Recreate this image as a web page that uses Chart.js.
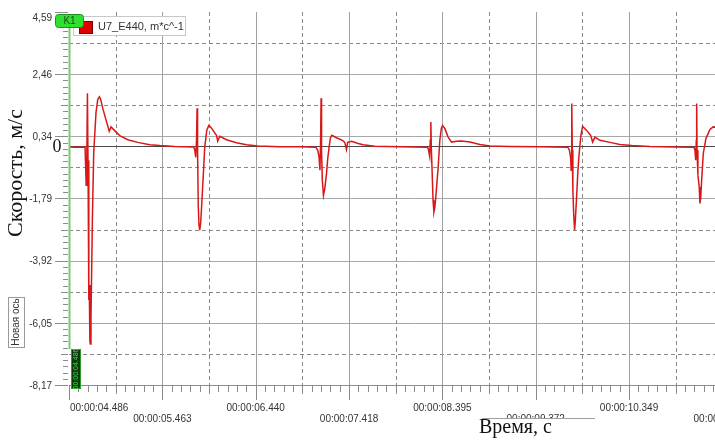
<!DOCTYPE html>
<html>
<head>
<meta charset="utf-8">
<script src="https://cdn.jsdelivr.net/npm/chart.js@4.4.1/dist/chart.umd.min.js"></script>
<style>
  html, body { margin: 0; padding: 0; background: #fff; overflow: hidden; }
  #wrap { width: 780px; height: 444px; }
</style>
</head>
<body>
<div id="wrap"><canvas id="chart1" width="780" height="444"></canvas></div>
<script>
// U7_E440 speed trace: time (s) and speed (m/s)
const timeS = [
  4.486, 4.560, 4.640,
  4.654, 4.666, 4.673, 4.679, 4.685, 4.692, 4.695, 4.698, 4.705, 4.710, 4.716, 4.731, 4.745, 4.769,
  4.787, 4.804, 4.818, 4.839, 4.874, 4.899, 4.907, 4.926, 4.962, 5.017, 5.101, 5.206, 5.331, 5.436, 5.593, 5.792,
  5.803, 5.813, 5.821, 5.827, 5.832, 5.839, 5.847, 5.855, 5.865, 5.878, 5.889, 5.907, 5.928,
  5.949, 5.970, 5.994, 6.030, 6.043, 6.064, 6.135, 6.239, 6.344, 6.462, 6.693, 6.902, 7.070,
  7.091, 7.104, 7.113, 7.120, 7.125, 7.130, 7.138, 7.150, 7.164, 7.182, 7.195, 7.209, 7.222,
  7.237, 7.287, 7.349, 7.373, 7.391, 7.403, 7.418, 7.444, 7.513, 7.565, 7.688, 7.949, 8.232,
  8.246, 8.262, 8.268, 8.274, 8.280, 8.287, 8.297, 8.306, 8.316, 8.326, 8.351, 8.368, 8.384,
  8.397, 8.421, 8.455, 8.491, 8.543, 8.596, 8.683, 8.787, 8.892, 9.101, 9.416, 9.709,
  9.725, 9.737, 9.743, 9.748, 9.751, 9.755, 9.761, 9.770, 9.779, 9.787, 9.800, 9.814, 9.827, 9.845,
  9.863, 9.905, 9.947, 9.968, 9.992, 10.044, 10.149, 10.254, 10.376, 10.568, 10.830, 11.029,
  11.039, 11.047, 11.053, 11.057, 11.061, 11.070, 11.084, 11.091, 11.099, 11.109, 11.126, 11.154,
  11.196, 11.231, 11.280, 11.353, 11.510, 11.720
];
const speed = [
  -0.03, -0.04, -0.03,
  -0.04, -1.34, -0.14, 1.81, -0.48, -3.90, -5.26, -4.75, -6.70, -6.77, -5.88, -2.46, -0.21, 1.16,
  1.60, 1.69, 1.60, 1.30, 0.89, 0.61, 0.51, 0.66, 0.54, 0.36, 0.22, 0.13, 0.05, 0.02, -0.01, -0.03,
  -0.14, -0.38, 0.20, 1.30, -0.14, -2.02, -2.70, -2.87, -2.60, -1.85, -1.17, -0.04, 0.54,
  0.71, 0.65, 0.54, 0.37, 0.17, 0.34, 0.22, 0.12, 0.05, 0.01, -0.02, -0.02, -0.04,
  -0.14, -0.38, -0.82, 0.20, 1.64, -0.14, -1.17, -1.68, -1.44, -0.93, -0.41, -0.04, 0.27,
  0.37, 0.29, 0.20, 0.13, -0.12, 0.13, 0.14, 0.17, 0.09, 0.05, 0.00, -0.02, -0.04,
  -0.07, -0.35, 0.20, 0.83, -0.14, -0.82, -1.85, -2.25, -2.09, -1.74, -0.71, 0.20, 0.61,
  0.71, 0.60, 0.31, 0.14, 0.17, 0.18, 0.14, 0.06, 0.01, -0.01, -0.02, -0.04,
  -0.14, -0.38, -0.82, 0.20, 1.46, -0.14, -1.51, -2.36, -2.87, -2.53, -1.74, -0.82, -0.24, 0.37,
  0.68, 0.54, 0.37, 0.14, 0.31, 0.20, 0.13, 0.06, 0.02, -0.01, -0.03, -0.04,
  -0.14, -0.48, 0.20, 1.46, -0.14, -0.99, -1.40, -1.96, -1.78, -1.17, -0.25, 0.26,
  0.57, 0.66, 0.65, 0.54, 0.30, 0.15
];

// axis ticks
const yTickLabels = ['4,59', '2,46', '0,34', '-1,79', '-3,92', '-6,05', '-8,17'];
const xTickValues = [4.486, 5.463, 6.440, 7.418, 8.395, 9.372, 10.349, 11.326];
const xTickLabels = ['00:00:04.486', '00:00:05.463', '00:00:06.440', '00:00:07.418',
                     '00:00:08.395', '00:00:09.372', '00:00:10.349', '00:00:11.326'];
const yMin = -8.17, yMax = 4.59;
const xMin = 4.486, xMax = 11.72;

const SANS = '"Liberation Sans", Arial, sans-serif';
const SERIF = '"Liberation Serif", "Times New Roman", serif';

function hLine(ctx, x1, x2, y) {
  ctx.beginPath(); ctx.moveTo(x1, y); ctx.lineTo(x2, y); ctx.stroke();
}
function vLine(ctx, x, y1, y2) {
  ctx.beginPath(); ctx.moveTo(x, y1); ctx.lineTo(x, y2); ctx.stroke();
}
function rotatedText(ctx, text, cx, cy, font, color) {
  ctx.save();
  ctx.translate(cx, cy);
  ctx.rotate(-Math.PI / 2);
  ctx.font = font;
  ctx.fillStyle = color;
  ctx.textAlign = 'center';
  ctx.textBaseline = 'middle';
  ctx.fillText(text, 0, 0);
  ctx.restore();
}

// grid, axes and the scope overlays
const scopePlugin = {
  id: 'scope',
  beforeDatasetsDraw(chart) {
    const { ctx, chartArea: a, scales: { x, y } } = chart;
    const yStep = (yMax - yMin) / (yTickLabels.length - 1);
    const xStep = xTickValues[1] - xTickValues[0];
    ctx.save();
    ctx.lineWidth = 1;
    for (let i = 0; i < yTickLabels.length - 1; i++) {
      const v = yMax - i * yStep;
      if (i > 0) {
        ctx.strokeStyle = '#a8a8a8';
        ctx.setLineDash([]);
        hLine(ctx, a.left, a.right, Math.round(y.getPixelForValue(v)) + 0.5);
      }
      ctx.strokeStyle = '#8a8a8a';
      ctx.setLineDash([4, 3]);
      hLine(ctx, a.left, a.right, Math.round(y.getPixelForValue(v - yStep / 2)) + 0.5);
    }
    xTickValues.forEach((v, i) => {
      if (i > 0) {
        ctx.strokeStyle = '#a0a0a0';
        ctx.setLineDash([]);
        vLine(ctx, Math.round(x.getPixelForValue(v)) + 0.5, a.top, a.bottom);
      }
      const m = v + xStep / 2;
      if (m < xMax) {
        ctx.strokeStyle = '#8a8a8a';
        ctx.setLineDash([4, 3]);
        vLine(ctx, Math.round(x.getPixelForValue(m)) + 0.5, a.top, a.bottom);
      }
    });
    // zero level
    ctx.setLineDash([]);
    ctx.strokeStyle = '#4a4a4a';
    hLine(ctx, a.left, a.right, Math.round(y.getPixelForValue(0)) + 0.5);
    ctx.restore();
  },
  afterDraw(chart) {
    const { ctx, chartArea: a, scales: { x, y } } = chart;
    const yStep = (yMax - yMin) / (yTickLabels.length - 1);
    const xStep = xTickValues[1] - xTickValues[0];
    ctx.save();
    ctx.lineWidth = 1;
    ctx.strokeStyle = '#8c8c8c';

    // x axis line and ticks
    hLine(ctx, a.left, a.right, a.bottom + 0.5);
    for (let i = 0; i < xTickValues.length; i++) {
      for (let k = 0; k < 10; k++) {
        const v = xTickValues[i] + k * xStep / 10;
        if (v > xMax) break;
        const px = Math.round(x.getPixelForValue(v)) + 0.5;
        const len = k === 0 ? 14 : (k === 5 ? 8 : 6);
        vLine(ctx, px, a.bottom + 1, a.bottom + 1 + len);
      }
    }
    // y axis ticks
    for (let i = 0; i < yTickLabels.length; i++) {
      for (let k = 0; k < 10; k++) {
        const v = yMax - i * yStep - k * yStep / 10;
        if (v < yMin - 1e-6) break;
        const py = Math.round(y.getPixelForValue(v)) + 0.5;
        const len = k === 0 ? 14 : (k === 5 ? 8 : 6);
        hLine(ctx, a.left - len, a.left - 1, py);
      }
    }

    // tick labels
    ctx.fillStyle = '#333';
    ctx.font = '10px ' + SANS;
    ctx.textAlign = 'right';
    ctx.textBaseline = 'middle';
    yTickLabels.forEach((t, i) => {
      const py = Math.max(y.getPixelForValue(yMax - i * yStep) + 1, 18);
      ctx.fillText(t, 52, py);
    });
    xTickValues.forEach((v, i) => {
      const px = x.getPixelForValue(v);
      const py = i % 2 === 0 ? 408.5 : 419.5;
      ctx.textAlign = i === 0 ? 'left' : 'center';
      ctx.fillText(xTickLabels[i], i === 0 ? px + 1 : px, py);
    });

    // axis titles
    ctx.fillStyle = '#fff';
    ctx.fillRect(482, 418, 113, 26);
    ctx.strokeStyle = '#a0a0a0';
    hLine(ctx, 482, 595, 418.5);
    ctx.fillStyle = '#111';
    ctx.font = '20px ' + SERIF;
    ctx.textAlign = 'left';
    ctx.textBaseline = 'alphabetic';
    ctx.fillText('Время, с', 479, 433);
    ctx.save();
    ctx.translate(22, 173);
    ctx.rotate(-Math.PI / 2);
    ctx.font = '22px ' + SERIF;
    ctx.textAlign = 'center';
    ctx.fillText('Скорость, м/с', 0, 0);
    ctx.restore();
    ctx.font = '18px ' + SERIF;
    ctx.textAlign = 'center';
    ctx.textBaseline = 'middle';
    ctx.fillText('0', 57, y.getPixelForValue(0) + 1);

    // "Новая ось" tag
    ctx.fillStyle = '#fff';
    ctx.fillRect(8, 297, 16, 50);
    ctx.strokeStyle = '#9a9a9a';
    ctx.strokeRect(8.5, 297.5, 16, 50);
    rotatedText(ctx, 'Новая ось', 16.5, 322, '10px ' + SANS, '#333');

    // legend
    ctx.fillStyle = '#fff';
    ctx.fillRect(73, 16, 112, 19);
    ctx.strokeStyle = '#c8c8c8';
    ctx.strokeRect(73.5, 16.5, 112, 19);
    ctx.fillStyle = '#e00000';
    ctx.fillRect(79, 21, 14, 13);
    ctx.strokeStyle = '#700';
    ctx.strokeRect(79.5, 21.5, 13, 12);
    ctx.fillStyle = '#333';
    ctx.font = '11px ' + SANS;
    ctx.textAlign = 'left';
    ctx.textBaseline = 'middle';
    ctx.fillText('U7_E440, m*c^-1', 98, 27);

    // cursor K1 with its flag and time marker
    ctx.strokeStyle = '#74cc74';
    ctx.lineWidth = 2;
    vLine(ctx, a.left + 0.5, 27, 349);
    ctx.lineWidth = 1;
    ctx.fillStyle = '#2fe02f';
    ctx.strokeStyle = '#1f8f1f';
    ctx.beginPath();
    ctx.roundRect(55.5, 14.5, 28, 13, 3);
    ctx.fill();
    ctx.stroke();
    ctx.fillStyle = '#1a4d1a';
    ctx.font = '10px ' + SANS;
    ctx.textAlign = 'center';
    ctx.fillText('K1', 69.5, 21.5);
    ctx.fillStyle = '#0d3a0d';
    ctx.fillRect(71, 349, 10, 40);
    ctx.strokeStyle = '#2a9a2a';
    ctx.strokeRect(71.5, 349.5, 9, 39);
    rotatedText(ctx, '00:00:04.486', 76, 369, '7px ' + SANS, '#3ee03e');
    ctx.restore();
  }
};

const points = timeS.map((t, i) => ({ x: t, y: speed[i] }));

new Chart(document.getElementById('chart1').getContext('2d'), {
  type: 'line',
  data: {
    datasets: [{
      label: 'U7_E440, m*c^-1',
      data: points,
      borderColor: '#d81818',
      borderWidth: 1.5,
      pointRadius: 0,
      tension: 0,
      fill: false
    }]
  },
  options: {
    responsive: false,
    animation: false,
    events: [],
    layout: { padding: { left: 69, top: 12, right: 20, bottom: 59 } },
    plugins: { legend: { display: false }, tooltip: { enabled: false } },
    scales: {
      x: { type: 'linear', min: xMin, max: xMax, display: false },
      y: { type: 'linear', min: yMin, max: yMax, display: false }
    }
  },
  plugins: [scopePlugin]
});
</script>
</body>
</html>
